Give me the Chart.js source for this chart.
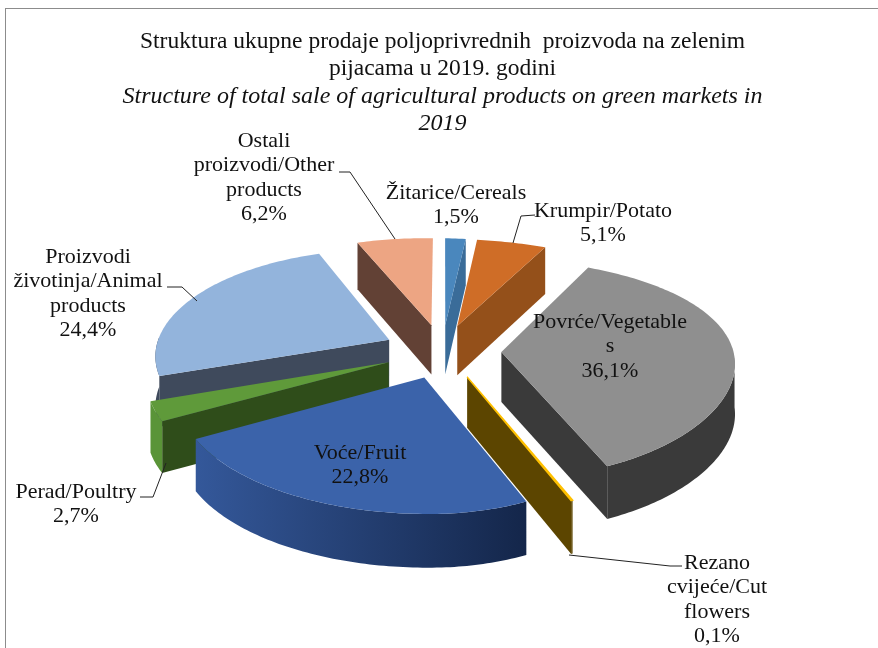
<!DOCTYPE html>
<html>
<head>
<meta charset="utf-8">
<script src="https://cdn.jsdelivr.net/npm/chart.js@4"></script>
<style>
  html, body { margin: 0; padding: 0; background: #fff; overflow: hidden; }
  #frame { position: absolute; left: 5px; top: 8px; width: 900px; height: 700px; border: 1px solid #8c8c8c; }
  #wrap { position: absolute; left: 0; top: 0; width: 878px; height: 648px; }
</style>
</head>
<body>
<div id="frame"></div>
<div id="wrap"><canvas id="chart"></canvas></div>
<script>
// Data
const categories = ['Žitarice/Cereals', 'Krumpir/Potato', 'Povrće/Vegetables', 'Rezano cvijeće/Cut flowers',
  'Voće/Fruit', 'Perad/Poultry', 'Proizvodi životinja/Animal products', 'Ostali proizvodi/Other products'];
const shares = [1.5, 5.1, 36.1, 0.1, 22.8, 2.7, 24.4, 6.2];
const titleLines = ['Struktura ukupne prodaje poljoprivrednih  proizvoda na zelenim', 'pijacama u 2019. godini'];
const subtitleLines = ['Structure of total sale of agricultural products on green markets in', '2019'];
const labelLines = [
  ['Žitarice/Cereals'], ['Krumpir/Potato'], ['Povrće/Vegetable', 's'], ['Rezano', 'cvijeće/Cut', 'flowers'],
  ['Voće/Fruit'], ['Perad/Poultry'], ['Proizvodi', 'životinja/Animal', 'products'], ['Ostali', 'proizvodi/Other', 'products']
];

// Colours
const topColors = ['#4a87bd', '#cf6d27', '#8f8f8f', '#ffc000', '#3b63aa', '#5f9a3a', '#93b4dc', '#eda583'];
const sideColors = ['#3a6c99', '#94501a', '#3a3a3a', '#5c4500', '#2c4a80', '#2f4d1a', '#3f4a5c', '#624135'];
const wallLeft = ['#3a6c99', '#94501a', '#3a3a3a', '#5c4500', '#34589a', '#5a9438', '#3f4a5c', '#624135'];
const wallRight = ['#3a6c99', '#94501a', '#3a3a3a', '#5c4500', '#14264a', '#5a9438', '#3f4a5c', '#624135'];

// Label placement: centre x, first line y, leader line
const labelPlace = [
  { x: 456, y: 193 },
  { x: 603, y: 211, line: [[535, 215], [521, 216], [513, 243]] },
  { x: 610, y: 322 },
  { x: 717, y: 563, line: [[569, 555], [670, 566], [682, 566]] },
  { x: 360, y: 453 },
  { x: 76, y: 492, line: [[140, 497], [153, 497], [166, 463]] },
  { x: 88, y: 257, line: [[167, 287], [182, 287], [197, 301]] },
  { x: 264, y: 141, line: [[339, 172], [350, 172], [395, 239]] }
];

// Tilted view of the pie
const view = { stretchX: 233, stretchY: 107, perspLeft: 0.16, perspRight: 0.06, perspY: 0.15, roll: 4, depth: 50 };
const labelFont = '22px "Liberation Serif"';

function project(cx, cy, wx, wy) {
  const sx = 1 / (1 - (wx > 0 ? view.perspRight : view.perspLeft) * wy);
  const sy = 1 / (1 - view.perspY * wy);
  return { x: cx + view.stretchX * wx * sx, y: cy + view.stretchY * wy * sy + view.roll * wx };
}

const tiltedPie = {
  id: 'tiltedPie',
  beforeDatasetsDraw(chart) {
    const ctx = chart.ctx;
    const arcs = chart.getDatasetMeta(0).data;
    const order = arcs.map((a, i) => i).sort((p, q) => {
      const mp = (arcs[p].startAngle + arcs[p].endAngle) / 2;
      const mq = (arcs[q].startAngle + arcs[q].endAngle) / 2;
      return Math.sin(mp) - Math.sin(mq);
    });

    order.forEach(i => {
      const arc = arcs[i];
      const R = arc.outerRadius;
      const mid = (arc.startAngle + arc.endAngle) / 2;
      const e = arc.options.offset / R;
      const ox = e * Math.cos(mid), oy = e * Math.sin(mid);
      const drop = wy => view.depth * (1 + 0.06 * wy);

      const apex = project(arc.x, arc.y, ox, oy);
      apex.d = drop(oy);
      const rim = [];
      const steps = Math.max(2, Math.ceil((arc.endAngle - arc.startAngle) * 60));
      for (let k = 0; k <= steps; k++) {
        const a = arc.startAngle + (arc.endAngle - arc.startAngle) * k / steps;
        const wy = oy + Math.sin(a);
        const p = project(arc.x, arc.y, ox + Math.cos(a), wy);
        rim.push({ x: p.x, y: p.y, a, d: drop(wy) });
      }

      const band = (pts, color) => {
        ctx.fillStyle = color;
        ctx.beginPath();
        pts.forEach((p, k) => k ? ctx.lineTo(p.x, p.y) : ctx.moveTo(p.x, p.y));
        pts.slice().reverse().forEach(p => ctx.lineTo(p.x, p.y + p.d));
        ctx.closePath();
        ctx.fill();
      };

      // cut faces turned towards the viewer
      if (Math.cos(arc.startAngle) < 0) band([apex, rim[0]], sideColors[i]);
      if (Math.cos(arc.endAngle) > 0) band([apex, rim[rim.length - 1]], sideColors[i]);

      // outer wall, only the part facing the viewer
      const front = rim.filter(p => Math.sin(p.a) > 0);
      if (front.length > 1) {
        const xs = front.map(p => p.x);
        const grad = ctx.createLinearGradient(Math.min(...xs), 0, Math.max(...xs), 0);
        grad.addColorStop(0, wallLeft[i]);
        grad.addColorStop(1, wallRight[i]);
        band(front, grad);
      }

      // top face
      ctx.fillStyle = arc.options.backgroundColor;
      ctx.beginPath();
      ctx.moveTo(apex.x, apex.y);
      rim.forEach(p => ctx.lineTo(p.x, p.y));
      ctx.closePath();
      ctx.fill();
      if (shares[i] < 0.5) {
        ctx.strokeStyle = arc.options.backgroundColor;
        ctx.lineWidth = 1.5;
        ctx.stroke();
      }
    });
    return false;
  },
  afterDraw(chart) {
    const ctx = chart.ctx;
    ctx.save();
    ctx.strokeStyle = '#222';
    ctx.lineWidth = 1;
    labelPlace.forEach(place => {
      if (!place.line) return;
      ctx.beginPath();
      place.line.forEach((p, k) => k ? ctx.lineTo(p[0], p[1]) : ctx.moveTo(p[0], p[1]));
      ctx.stroke();
    });
    ctx.fillStyle = '#111';
    ctx.font = labelFont;
    ctx.textAlign = 'center';
    ctx.textBaseline = 'middle';
    labelLines.forEach((lines, i) => {
      const all = lines.concat(shares[i].toFixed(1).replace('.', ',') + '%');
      all.forEach((t, k) => ctx.fillText(t, labelPlace[i].x, labelPlace[i].y + k * 24.5));
    });
    ctx.restore();
  }
};

new Chart(document.getElementById('chart'), {
  type: 'pie',
  data: {
    labels: categories,
    datasets: [{
      data: shares,
      backgroundColor: topColors,
      borderWidth: 0,
      offset: 48
    }]
  },
  options: {
    responsive: true,
    maintainAspectRatio: false,
    animation: false,
    layout: { padding: { left: 7, bottom: 83 } },
    plugins: {
      legend: { display: false },
      tooltip: { enabled: false },
      title: {
        display: true,
        text: titleLines,
        color: '#111',
        font: { family: '"Liberation Serif"', size: 23.5, weight: 'normal', lineHeight: 1.15 },
        padding: { top: 28, bottom: 0 }
      },
      subtitle: {
        display: true,
        text: subtitleLines,
        color: '#111',
        font: { family: '"Liberation Serif"', size: 24, style: 'italic', lineHeight: 1.125 },
        padding: { top: 1, bottom: 0 }
      }
    }
  },
  plugins: [tiltedPie]
});
</script>
</body>
</html>
